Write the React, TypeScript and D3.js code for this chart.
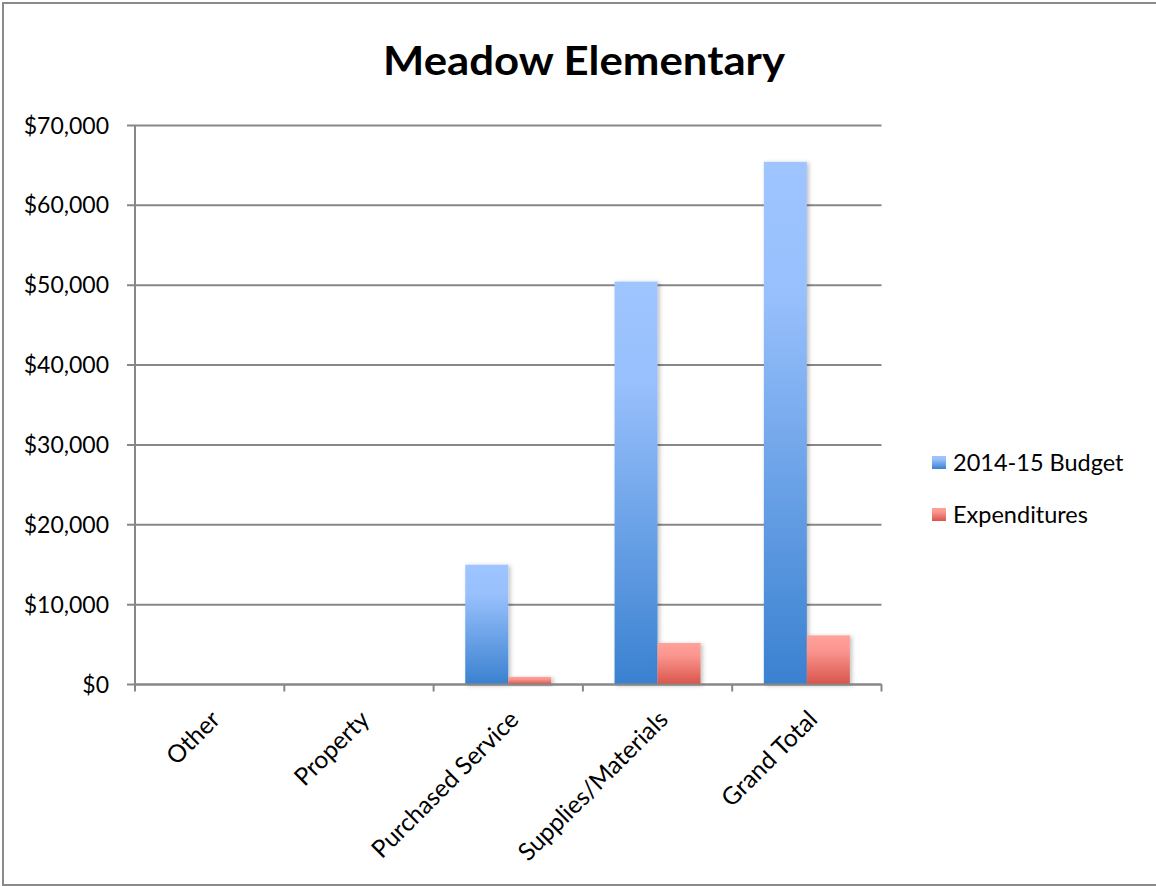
import React from "react";
import * as d3 from "d3";

const categories = ["Other", "Property", "Purchased Service", "Supplies/Materials", "Grand Total"];
const seriesNames = ["2014-15 Budget", "Expenditures"];
const budgetValues = [0, 0, 15000, 50450, 65450];
const expenditureValues = [0, 0, 950, 5200, 6150];
const yTickValues = [0, 10000, 20000, 30000, 40000, 50000, 60000, 70000];

const W = 1156;
const H = 886;
const FONT = "Lato, 'Open Sans', 'DejaVu Sans', sans-serif";

export default function App() {
  const x0 = d3.scaleBand<string>().domain(categories).range([135, 881.5]).paddingInner(0.424).paddingOuter(0.212);
  const x1 = d3.scaleBand<string>().domain(seriesNames).range([0, x0.bandwidth()]).padding(0);
  const y = d3.scaleLinear().domain([0, 70000]).range([684.5, 125.5]);
  const fmt = (v: number) => "$" + d3.format(",")(v);
  const seriesData = [budgetValues, expenditureValues];
  const gradIds = ["gradBudget", "gradExp"];
  const gridColor = "#878787";

  return (
    <svg width={W} height={H} style={{ position: "absolute", left: 0, top: 0, background: "#fff" }}>
      <defs>
        <linearGradient id="gradBudget" x1="0" y1="0" x2="0" y2="1">
          <stop offset="0" stopColor="#9EC5FF" />
          <stop offset="0.25" stopColor="#98C0FC" />
          <stop offset="1" stopColor="#3A81D0" />
        </linearGradient>
        <linearGradient id="gradExp" x1="0" y1="0" x2="0" y2="1">
          <stop offset="0" stopColor="#FFA19A" />
          <stop offset="0.3" stopColor="#FA968F" />
          <stop offset="1" stopColor="#D9544A" />
        </linearGradient>
        <filter id="shadow" x="-20%" y="-20%" width="150%" height="150%">
          <feDropShadow dx="2" dy="1" stdDeviation="2" floodColor="#000" floodOpacity="0.25" />
        </filter>
      </defs>
      <rect x={0} y={0} width={W} height={H} fill="#fff" />
      <rect x={3} y={3} width={W + 20} height={882} fill="none" stroke="#8a8a8a" strokeWidth={2} />

      <text x={584} y={75} textAnchor="middle" fontFamily={FONT} fontWeight={700} fontSize={40} textLength={402} lengthAdjust="spacingAndGlyphs" fill="#000">
        Meadow Elementary
      </text>

      {/* gridlines and y ticks */}
      {yTickValues.map((t) => (
        <g key={t}>
          <line x1={127} x2={881.5} y1={y(t)} y2={y(t)} stroke={gridColor} strokeWidth={2} />
          <text x={109} y={y(t) + 8} textAnchor="end" fontFamily={FONT} fontSize={23} fill="#000">
            {fmt(t)}
          </text>
        </g>
      ))}

      {/* bars */}
      {categories.map((c, i) => (
        <g key={c} transform={`translate(${x0(c)},0)`}>
          {seriesNames.map((s, k) => {
            const v = seriesData[k][i];
            if (v <= 0) return null;
            return (
              <rect
                key={s}
                x={x1(s)}
                y={y(v)}
                width={x1.bandwidth()}
                height={y(0) - y(v)}
                fill={`url(#${gradIds[k]})`}
                filter="url(#shadow)"
              />
            );
          })}
        </g>
      ))}

      {/* y axis line */}
      <line x1={135} x2={135} y1={y(70000)} y2={y(0)} stroke={gridColor} strokeWidth={2} />
      {/* x axis line and ticks */}
      <line x1={135} x2={881.5} y1={y(0)} y2={y(0)} stroke={gridColor} strokeWidth={2} />
      {[...categories.map((c) => (x0(c) as number) - x0.step() * 0.212), 881.5].map((tx, i) => (
        <line key={i} x1={tx} x2={tx} y1={y(0)} y2={y(0) + 7} stroke={gridColor} strokeWidth={2} />
      ))}

      {/* category labels */}
      {categories.map((c) => {
        const cx = (x0(c) as number) + x0.bandwidth() / 2 + 12;
        const cy = 721;
        return (
          <text key={c} x={cx} y={cy} transform={`rotate(-45 ${cx} ${cy})`} textAnchor="end" fontFamily={FONT} fontSize={24.5} fill="#000">
            {c}
          </text>
        );
      })}

      {/* legend */}
      {seriesNames.map((s, k) => (
        <g key={s} transform={`translate(932, ${456 + k * 52})`}>
          <rect x={0} y={0} width={14} height={13} fill={`url(#${gradIds[k]})`} />
          <text x={21} y={15} fontFamily={FONT} fontSize={23.5} fill="#000">
            {s}
          </text>
        </g>
      ))}
    </svg>
  );
}
